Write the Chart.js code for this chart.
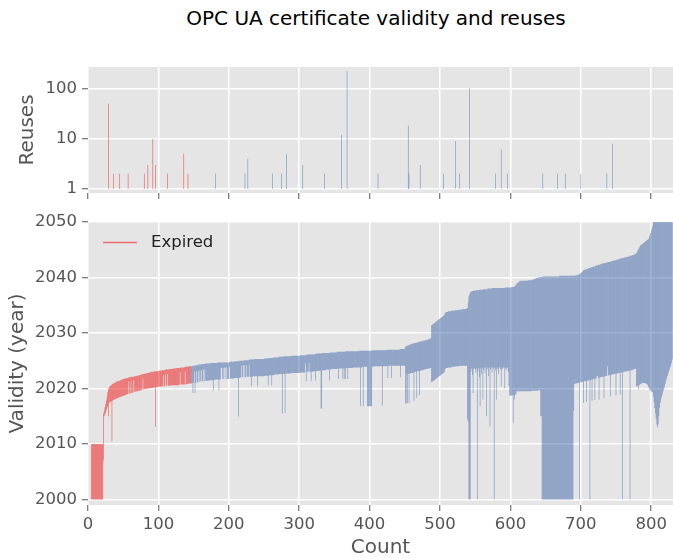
<!DOCTYPE html>
<html>
<head>
<meta charset="utf-8">
<script src="https://cdn.jsdelivr.net/npm/chart.js@4.4.1/dist/chart.umd.min.js"></script>
<style>
  html, body { margin: 0; padding: 0; background: #fff; }
  #wrap { position: relative; width: 673px; height: 558px; overflow: hidden; }
  #title { position: absolute; left: 0; top: 6px; width: 752px; text-align: center;
           font: 20px "DejaVu Sans", sans-serif; color: #000; line-height: 24px; }
  canvas { position: absolute; left: 0; }
</style>
</head>
<body>
<div id="wrap">
  <div id="title">OPC UA certificate validity and reuses</div>
  <canvas id="reuseCanvas" width="673" height="200" style="top:0"></canvas>
  <canvas id="validityCanvas" width="673" height="358" style="top:200px"></canvas>
</div>
<script>
// certificates sorted by expiry; index = count on the x axis
// counts below expiredCount are expired
const expiredCount = 147;

const validityEnd = [
  null,null,null,null,null,2010,2010,2010,2010,2010,
  2010,2010,2010,2010,2010,2010,2010,2010,2010,2010,
  2010,2010,2015.5,2016.0,2016.6,2017.2,2017.8,2018.5,2019.3,2020.0,
  2020.2,2020.4,2020.5,2020.6,2020.7,2020.8,2020.9,2021.0,2021.0,2021.1,
  2021.2,2021.2,2021.3,2021.3,2021.4,2021.4,2021.5,2021.5,2021.6,2021.6,
  2021.7,2021.7,2021.8,2021.8,2021.8,2021.9,2021.9,2021.9,2022.0,2022.0,
  2022.0,2022.0,2022.1,2022.1,2022.1,2022.1,2022.2,2022.2,2022.2,2022.3,
  2022.3,2022.3,2022.4,2022.4,2022.4,2022.5,2022.5,2022.5,2022.6,2022.6,
  2022.6,2022.7,2022.7,2022.7,2022.8,2022.8,2022.8,2022.9,2022.9,2022.9,
  2023.0,2023.0,2023.0,2023.0,2023.0,2023.1,2023.1,2023.1,2023.1,2023.1,
  2023.2,2023.2,2023.2,2023.2,2023.2,2023.3,2023.3,2023.3,2023.3,2023.3,
  2023.4,2023.4,2023.4,2023.4,2023.4,2023.4,2023.5,2023.5,2023.5,2023.5,
  2023.5,2023.6,2023.6,2023.6,2023.6,2023.6,2023.7,2023.7,2023.7,2023.7,
  2023.7,2023.7,2023.8,2023.8,2023.8,2023.8,2023.8,2023.8,2023.9,2023.9,
  2023.9,2023.9,2023.9,2024.0,2024.0,2024.0,2024.0,2024.0,2024.0,2024.1,
  2024.1,2024.1,2024.1,2024.2,2024.2,2024.2,2024.2,2024.3,2024.3,2024.3,
  2024.3,2024.3,2024.4,2024.4,2024.4,2024.4,2024.4,2024.5,2024.5,2024.5,
  2024.5,2024.5,2024.5,2024.5,2024.6,2024.6,2024.6,2024.6,2024.6,2024.6,
  2024.6,2024.6,2024.6,2024.6,2024.7,2024.7,2024.7,2024.7,2024.7,2024.7,
  2024.7,2024.7,2024.7,2024.7,2024.7,2024.7,2024.7,2024.7,2024.7,2024.7,
  2024.7,2024.8,2024.8,2024.8,2024.8,2024.8,2024.8,2024.8,2024.9,2024.9,
  2024.9,2024.9,2024.9,2024.9,2024.9,2025.0,2025.0,2025.0,2025.0,2025.0,
  2025.0,2025.0,2025.1,2025.1,2025.1,2025.1,2025.1,2025.1,2025.1,2025.2,
  2025.2,2025.2,2025.2,2025.2,2025.2,2025.2,2025.2,2025.3,2025.3,2025.3,
  2025.3,2025.3,2025.3,2025.3,2025.3,2025.3,2025.3,2025.3,2025.3,2025.3,
  2025.3,2025.4,2025.4,2025.4,2025.4,2025.4,2025.4,2025.5,2025.5,2025.5,
  2025.5,2025.5,2025.5,2025.5,2025.6,2025.6,2025.6,2025.6,2025.6,2025.6,
  2025.6,2025.7,2025.7,2025.7,2025.7,2025.7,2025.7,2025.7,2025.8,2025.8,
  2025.8,2025.8,2025.8,2025.8,2025.8,2025.8,2025.8,2025.8,2025.8,2025.9,
  2025.9,2025.9,2025.9,2025.9,2025.9,2025.9,2025.9,2025.9,2025.9,2025.9,
  2025.9,2025.9,2026.0,2026.0,2026.0,2026.0,2026.0,2026.0,2026.0,2026.0,
  2026.0,2026.1,2026.1,2026.1,2026.1,2026.1,2026.1,2026.1,2026.1,2026.1,
  2026.1,2026.1,2026.1,2026.2,2026.3,2026.3,2026.3,2026.3,2026.3,2026.3,
  2026.3,2026.3,2026.3,2026.4,2026.4,2026.4,2026.4,2026.4,2026.4,2026.4,
  2026.4,2026.4,2026.4,2026.4,2026.5,2026.5,2026.5,2026.5,2026.5,2026.5,
  2026.5,2026.5,2026.5,2026.5,2026.6,2026.6,2026.6,2026.6,2026.6,2026.6,
  2026.6,2026.6,2026.6,2026.6,2026.6,2026.6,2026.7,2026.7,2026.7,2026.7,
  2026.7,2026.7,2026.7,2026.7,2026.7,2026.7,2026.7,2026.7,2026.7,2026.7,
  2026.7,2026.7,2026.7,2026.7,2026.7,2026.8,2026.8,2026.8,2026.8,2026.8,
  2026.8,2026.8,2026.8,2026.8,2026.8,2026.8,2026.8,2026.8,2026.8,2026.8,
  2026.8,2026.8,2026.8,2026.8,2026.8,2026.9,2026.9,2026.9,2026.9,2026.9,
  2026.9,2026.9,2026.9,2026.9,2026.9,2026.9,2026.9,2026.9,2026.9,2026.9,
  2026.9,2026.9,2026.9,2026.9,2026.9,2027.0,2027.0,2027.0,2027.0,2027.0,
  2027.0,2027.0,2027.0,2027.0,2027.0,2027.0,2027.0,2027.0,2027.0,2027.0,
  2027.0,2027.0,2027.0,2027.1,2027.1,2027.1,2027.1,2027.1,2027.1,2027.1,
  2027.2,2027.5,2027.6,2027.7,2027.7,2027.8,2027.8,2027.9,2027.9,2028.0,
  2028.0,2028.1,2028.1,2028.1,2028.2,2028.2,2028.2,2028.3,2028.3,2028.3,
  2028.4,2028.4,2028.4,2028.5,2028.5,2028.5,2028.6,2028.6,2028.6,2028.7,
  2028.7,2028.7,2028.8,2028.8,2028.9,2028.9,2029.0,2029.0,2031.4,2031.5,
  2031.6,2031.7,2031.8,2031.9,2032.0,2032.1,2032.2,2032.3,2032.4,2032.5,
  2032.6,2032.7,2032.8,2032.9,2033.0,2033.1,2033.2,2033.5,2033.7,2033.8,
  2033.8,2033.8,2033.9,2033.9,2033.9,2033.9,2034.0,2034.0,2034.0,2034.0,
  2034.0,2034.1,2034.1,2034.1,2034.1,2034.1,2034.2,2034.2,2034.2,2034.2,
  2034.2,2034.2,2034.3,2034.3,2034.3,2034.3,2034.3,2034.3,2034.4,2034.5,
  2035.5,2036.6,2037.0,2037.3,2037.4,2037.5,2037.5,2037.6,2037.6,2037.6,
  2037.6,2037.7,2037.7,2037.7,2037.7,2037.7,2037.8,2037.8,2037.8,2037.8,
  2037.8,2037.8,2037.9,2037.9,2037.9,2037.9,2037.9,2037.9,2038.0,2038.0,
  2038.0,2038.0,2038.0,2038.0,2038.0,2038.1,2038.1,2038.1,2038.1,2038.1,
  2038.1,2038.1,2038.1,2038.1,2038.1,2038.1,2038.1,2038.1,2038.1,2038.1,
  2038.1,2038.1,2038.1,2038.2,2038.2,2038.2,2038.2,2038.2,2038.2,2038.2,
  2038.2,2038.2,2038.3,2038.3,2038.3,2038.3,2038.4,2038.5,2038.7,2038.9,
  2039.0,2039.1,2039.2,2039.3,2039.4,2039.4,2039.4,2039.4,2039.4,2039.4,
  2039.4,2039.4,2039.4,2039.4,2039.4,2039.5,2039.5,2039.5,2039.5,2039.5,
  2039.5,2039.6,2039.6,2039.7,2039.7,2039.8,2039.8,2039.9,2039.9,2040.0,
  2040.0,2040.0,2040.1,2040.1,2040.1,2040.1,2040.2,2040.2,2040.2,2040.2,
  2040.2,2040.2,2040.2,2040.2,2040.2,2040.2,2040.2,2040.2,2040.2,2040.2,
  2040.2,2040.2,2040.2,2040.2,2040.2,2040.2,2040.2,2040.2,2040.2,2040.2,
  2040.3,2040.3,2040.3,2040.3,2040.3,2040.3,2040.3,2040.3,2040.3,2040.3,
  2040.3,2040.3,2040.3,2040.3,2040.3,2040.3,2040.3,2040.3,2040.3,2040.3,
  2040.3,2040.3,2040.3,2040.4,2040.4,2040.4,2040.5,2040.5,2040.6,2040.7,
  2040.8,2040.9,2041.0,2041.2,2041.3,2041.4,2041.4,2041.5,2041.5,2041.5,
  2041.6,2041.6,2041.7,2041.7,2041.8,2041.8,2041.9,2041.9,2042.0,2042.0,
  2042.0,2042.1,2042.1,2042.2,2042.2,2042.3,2042.3,2042.3,2042.4,2042.4,
  2042.5,2042.5,2042.5,2042.6,2042.6,2042.6,2042.7,2042.7,2042.7,2042.8,
  2042.8,2042.8,2042.9,2042.9,2042.9,2043.0,2043.0,2043.0,2043.1,2043.1,
  2043.1,2043.2,2043.2,2043.3,2043.3,2043.3,2043.4,2043.4,2043.4,2043.5,
  2043.5,2043.5,2043.6,2043.6,2043.7,2043.7,2043.7,2043.8,2043.8,2043.8,
  2043.9,2043.9,2043.9,2044.0,2044.0,2044.1,2044.1,2044.2,2044.3,2044.4,
  2044.6,2044.9,2045.1,2045.4,2045.6,2045.8,2045.9,2046.0,2046.1,2046.2,
  2046.3,2046.4,2046.5,2046.6,2046.7,2046.8,2046.9,2047.2,2047.6,2048.0,
  2048.4,2048.8,2049.3,2050.5,2055,2055,2055,2055,2055,2055,
  2055,2055,2055,2055,2055,2055,2055,2055,2055,2055,
  2055,2055,2055,2055,2055,2055,2055,2055,2055,2055,
  2055
];

const validityStart = [
  null,null,null,null,null,2000,2000,2000,2000,2000,
  2000,2000,2000,2000,2000,2000,2000,2000,2000,2000,
  2000,2000,2007.0,2015.0,2015.3,2015.6,2016.0,2016.4,2016.8,2015.0,
  2017.3,2017.5,2017.6,2017.7,2010.5,2017.8,2017.9,2018.0,2018.0,2018.1,
  2018.2,2018.2,2018.3,2018.3,2018.4,2018.4,2018.5,2018.5,2018.6,2018.6,
  2018.7,2018.7,2018.8,2018.8,2018.9,2018.9,2019.0,2019.0,2021.2,2019.1,
  2019.1,2021.3,2019.2,2019.2,2019.3,2021.5,2019.4,2019.4,2019.5,2019.5,
  2019.5,2019.6,2019.6,2019.6,2019.7,2019.7,2019.7,2019.8,2021.8,2019.8,
  2019.9,2019.9,2019.9,2019.9,2020.0,2020.0,2020.0,2020.0,2020.1,2020.1,
  2020.1,2020.1,2020.1,2020.2,2020.2,2020.2,2013.1,2020.2,2020.3,2020.3,
  2020.3,2020.3,2020.3,2020.3,2020.4,2020.4,2020.4,2022.4,2020.4,2020.4,
  2022.5,2020.5,2020.5,2022.6,2020.5,2020.5,2020.5,2020.5,2020.6,2020.6,
  2020.6,2020.6,2020.6,2020.6,2020.6,2020.6,2020.6,2020.6,2020.6,2020.6,
  2020.7,2022.9,2020.7,2020.7,2020.7,2020.7,2020.7,2020.7,2023.0,2020.7,
  2020.8,2020.8,2020.8,2020.9,2020.9,2020.9,2020.9,2020.9,2021.0,2019.2,
  2021.0,2023.0,2019.2,2021.0,2023.1,2021.1,2021.1,2023.2,2021.2,2023.2,
  2021.3,2023.3,2021.3,2021.3,2023.4,2021.3,2023.4,2021.4,2021.4,2021.4,
  2021.4,2021.4,2021.5,2021.5,2021.5,2021.5,2021.5,2021.5,2019.6,2021.5,
  2021.6,2021.6,2021.6,2021.6,2021.6,2021.6,2019.7,2021.6,2021.6,2023.7,
  2023.7,2021.7,2023.7,2021.7,2023.8,2023.8,2021.7,2023.8,2021.7,2021.7,
  2021.7,2023.9,2021.8,2021.8,2021.8,2021.8,2021.8,2021.8,2021.9,2021.9,
  2021.9,2021.9,2021.9,2021.9,2014.9,2021.9,2022.0,2022.0,2024.1,2022.0,
  2022.0,2024.2,2024.2,2022.0,2022.0,2024.2,2022.1,2022.1,2022.1,2024.3,
  2022.1,2022.1,2020.4,2022.1,2022.1,2022.2,2022.2,2022.2,2022.2,2022.2,
  2022.2,2020.5,2022.2,2022.2,2022.2,2022.2,2022.2,2022.2,2022.2,2022.2,
  2022.2,2022.3,2022.3,2022.3,2022.3,2022.3,2020.6,2022.3,2022.4,2022.4,
  2022.4,2020.6,2022.4,2022.4,2022.4,2022.5,2022.5,2022.5,2022.5,2022.5,
  2022.5,2022.5,2022.6,2022.6,2022.6,2022.6,2015.5,2022.6,2022.6,2022.6,
  2015.6,2022.7,2022.7,2022.7,2022.7,2022.7,2022.7,2022.7,2022.7,2022.8,
  2022.8,2022.8,2022.8,2022.8,2022.8,2022.8,2022.8,2022.8,2022.8,2022.8,
  2022.8,2022.8,2022.9,2022.9,2022.9,2022.9,2022.9,2022.9,2022.9,2024.5,
  2021.3,2023.0,2023.0,2023.0,2024.6,2023.0,2023.0,2021.3,2023.0,2023.0,
  2023.1,2023.1,2023.1,2021.4,2023.1,2023.1,2023.2,2023.2,2023.2,2023.2,
  2023.2,2016.4,2016.4,2023.3,2023.3,2023.3,2023.3,2023.3,2023.3,2023.4,
  2023.4,2023.4,2023.4,2021.5,2023.4,2023.4,2023.5,2023.5,2023.5,2023.5,
  2023.5,2023.5,2023.5,2023.5,2023.5,2023.6,2021.7,2023.6,2023.6,2023.6,
  2023.6,2023.6,2021.7,2023.6,2021.7,2023.6,2021.7,2023.7,2023.7,2021.7,
  2023.7,2023.7,2023.7,2023.7,2023.7,2023.7,2023.7,2023.8,2023.8,2023.8,
  2023.8,2023.8,2023.8,2023.8,2023.8,2023.8,2023.8,2016.8,2023.8,2023.8,
  2023.9,2016.8,2023.9,2023.9,2023.9,2023.9,2023.9,2016.8,2016.8,2016.8,
  2016.8,2016.8,2016.8,2016.8,2023.9,2023.9,2024.0,2024.0,2024.0,2024.0,
  2024.0,2024.0,2024.0,2024.0,2024.0,2024.0,2024.0,2024.0,2016.9,2024.0,
  2024.0,2024.0,2024.0,2024.0,2024.0,2024.0,2021.9,2024.1,2024.1,2024.1,
  2024.1,2021.9,2024.1,2024.1,2024.1,2024.1,2024.1,2024.1,2024.1,2024.1,
  2024.1,2024.1,2024.1,2024.1,2022.0,2024.1,2024.1,2024.1,2024.1,2024.1,
  2024.1,2017.3,2017.3,2022.5,2017.4,2022.6,2017.4,2022.7,2022.7,2022.8,
  2022.8,2022.8,2022.9,2017.8,2022.9,2023.0,2023.0,2018.3,2023.1,2023.1,
  2023.1,2018.8,2023.2,2023.2,2023.3,2023.3,2023.3,2023.4,2023.4,2023.4,
  2023.5,2023.5,2023.5,2023.6,2023.6,2023.6,2023.7,2023.7,2021.1,2021.2,
  2021.3,2021.4,2021.5,2021.6,2021.7,2021.8,2021.9,2022.0,2022.1,2022.2,
  2022.3,2022.4,2022.5,2022.6,2022.7,2022.8,2022.9,2023.3,2023.6,2023.7,
  2023.7,2023.7,2023.8,2023.8,2023.8,2023.8,2023.8,2023.9,2023.9,2023.9,
  2023.9,2023.9,2024.0,2024.0,2024.0,2024.0,2024.0,2024.0,2024.1,2024.1,
  2024.1,2024.1,2024.1,2024.1,2024.1,2024.1,2024.1,2024.1,2024.1,2014.4,
  2014.0,2000,2000,2000,2023.0,2023.6,2022.4,2019.2,2023.5,2023.7,
  2023.4,2022.8,2023.6,2000,2023.1,2023.7,2022.0,2016.8,2023.6,2022.5,
  2023.7,2018.0,2023.3,2023.8,2022.7,2023.8,2015.0,2023.5,2023.8,2022.2,
  2023.8,2013.2,2023.4,2023.8,2022.9,2023.8,2023.6,2000,2023.8,2023.3,
  2018.0,2023.8,2023.5,2022.6,2023.8,2023.8,2023.4,2020.4,2023.8,2023.5,
  2023.8,2023.8,2020.0,2023.6,2023.8,2023.3,2023.8,2023.0,2020.5,2018.7,
  2018.7,2018.7,2018.8,2018.8,2013.8,2018.8,2018.0,2018.9,2018.9,2019.5,
  2019.5,2019.5,2019.5,2019.5,2019.5,2019.5,2019.5,2019.5,2019.5,2019.5,
  2019.5,2019.5,2019.5,2019.5,2019.5,2019.5,2019.5,2019.5,2019.5,2019.5,
  2019.6,2019.6,2019.6,2019.6,2019.6,2019.6,2019.6,2019.6,2019.6,2019.6,
  2019.7,2019.7,2019.7,2015.0,2015.0,2000,2000,2000,2000,2000,
  2000,2000,2000,2000,2000,2000,2000,2000,2000,2000,
  2000,2000,2000,2000,2000,2000,2000,2000,2000,2000,
  2000,2000,2000,2000,2000,2000,2000,2000,2000,2000,
  2000,2000,2000,2000,2000,2000,2000,2000,2000,2000,
  2016.0,2020.8,2020.9,2020.9,2020.9,2021.0,2021.0,2021.0,2000,2021.1,
  2021.1,2021.1,2021.2,2021.2,2017.4,2021.3,2021.3,2021.3,2017.6,2021.4,
  2021.4,2021.5,2021.5,2000,2021.5,2021.6,2017.8,2021.6,2021.7,2021.7,
  2017.9,2021.8,2021.8,2022.2,2022.2,2021.9,2018.0,2022.0,2022.0,2022.0,
  2022.1,2022.1,2022.1,2018.3,2022.2,2022.2,2022.3,2022.3,2024.0,2022.4,
  2022.4,2022.4,2018.6,2022.5,2022.5,2022.5,2022.6,2022.6,2022.6,2022.7,
  2018.8,2022.7,2022.7,2022.8,2022.8,2022.8,2018.9,2022.9,2022.9,2000,
  2022.9,2023.0,2023.0,2023.0,2023.1,2023.1,2023.1,2023.2,2023.2,2023.2,
  2000,2023.3,2023.3,2023.3,2023.4,2023.4,2023.5,2023.5,2023.6,2020.4,
  2020.4,2020.5,2019.8,2020.6,2020.7,2020.8,2020.9,2021.0,2021.0,2021.0,
  2021.0,2021.0,2020.9,2020.9,2020.8,2020.6,2020.3,2020.0,2019.8,2019.6,
  2019.5,2019.4,2019.3,2018.5,2017.5,2016.5,2015.5,2014.5,2013.5,2013.0,
  2013.5,2015.0,2016.5,2017.4,2018.0,2018.5,2019.0,2019.5,2019.8,2020.3,
  2020.8,2021.3,2021.8,2022.2,2022.6,2023.0,2023.4,2023.8,2024.2,2024.6,
  2025.2
];

// certificates whose key was reused: count position and number of reuses
const reuseCount = [29, 36, 45, 57, 80, 85, 92, 96, 113, 136, 142, 181, 223, 227, 262, 275, 282,
  305, 336, 360, 368, 412, 455, 456, 472, 505, 522, 528, 542, 579, 587, 596, 646, 667, 678, 700, 737, 745];
const reuseValue = [50, 2, 2, 2, 2, 3, 10, 3, 2, 5, 2, 2, 2, 4, 2, 2, 5,
  3, 2, 12, 220, 2, 18, 2, 3, 2, 9, 2, 100, 2, 6, 2, 2, 2, 2, 2, 2, 8];

const countTicks = [0, 100, 200, 300, 400, 500, 600, 700, 800];
const yearTicks = [2000, 2010, 2020, 2030, 2040, 2050];
const reuseTicks = [1, 10, 100];

// sub-pixel bars overlap at their edges, so alpha is a bit above 0.5
const RED = 'rgba(240, 15, 15, 0.56)';
const BLUE = 'rgba(60, 100, 170, 0.56)';
const FONT = '"DejaVu Sans", sans-serif';
const TICK_COLOR = '#555555';

Chart.defaults.font.family = FONT;
Chart.defaults.animation = false;

const plotBackground = {
  id: 'plotBackground',
  beforeDraw(chart) {
    const { ctx, chartArea: a } = chart;
    ctx.save();
    ctx.fillStyle = '#e5e5e5';
    ctx.fillRect(a.left, a.top, a.right - a.left, a.bottom - a.top);
    ctx.restore();
  },
};

// matplotlib-like legend sitting inside the plot, top left
const expiredLegend = {
  id: 'expiredLegend',
  afterDraw(chart) {
    const { ctx, chartArea: a } = chart;
    const y = a.top + 20.5;
    ctx.save();
    ctx.strokeStyle = RED;
    ctx.lineWidth = 1.3;
    ctx.beginPath();
    ctx.moveTo(a.left + 15, y);
    ctx.lineTo(a.left + 49, y);
    ctx.stroke();
    ctx.fillStyle = '#222';
    ctx.font = '16.5px ' + FONT;
    ctx.textBaseline = 'middle';
    ctx.fillText('Expired', a.left + 63, y);
    ctx.restore();
  },
};

function fixTicks(values) {
  return (scale) => { scale.ticks = values.map(v => ({ value: v })); };
}

function gridOpts() {
  return { color: '#ffffff', lineWidth: 1.5, tickColor: TICK_COLOR, tickLength: 6, tickWidth: 1, offset: false };
}

function countAxis(showLabels, height) {
  return {
    type: 'linear',
    min: 0,
    max: 831,
    offset: false,
    afterBuildTicks: fixTicks(countTicks),
    grid: gridOpts(),
    border: { display: false },
    ticks: {
      display: showLabels,
      color: TICK_COLOR,
      font: { size: 16.5 },
      padding: 4,
      maxRotation: 0,
      callback: v => String(v),
    },
    title: {
      display: showLabels,
      text: 'Count',
      color: TICK_COLOR,
      font: { size: 20, lineHeight: 1 },
      padding: { top: 0, bottom: 0 },
    },
    afterFit: (s) => { s.height = height; s.paddingLeft = 0; s.paddingRight = 0; },
  };
}

const barStyle = {
  borderWidth: 0,
  barPercentage: 1,
  categoryPercentage: 1,
  inflateAmount: 0,
  grouped: false,
  clip: 0,
};

// ---- top panel: reuses (log scale) ----
const reuseBars = reuseCount.map((c, i) => ({ x: c, y: [1, reuseValue[i]] }));

new Chart(document.getElementById('reuseCanvas'), {
  type: 'bar',
  data: {
    datasets: [{
      label: 'Reuses',
      data: reuseBars,
      backgroundColor: reuseCount.map(c => (c < expiredCount ? RED : BLUE)),
      ...barStyle,
    }],
  },
  options: {
    responsive: false,
    layout: { padding: { top: 67, left: 0, right: 0, bottom: 0 } },
    plugins: { legend: { display: false }, tooltip: { enabled: false } },
    scales: {
      x: countAxis(false, 7),
      y: {
        type: 'logarithmic',
        min: 0.833,
        max: 265,
        afterBuildTicks: fixTicks(reuseTicks),
        grid: gridOpts(),
        border: { display: false },
        ticks: { color: TICK_COLOR, font: { size: 16.5 }, padding: 5, callback: v => String(v) },
        title: {
          display: true,
          text: 'Reuses',
          color: TICK_COLOR,
          font: { size: 20 },
          padding: { top: 16, bottom: 0 },
        },
        afterFit: (s) => { s.width = 88; s.paddingTop = 0; s.paddingBottom = 0; },
      },
    },
  },
  plugins: [plotBackground],
});

// ---- bottom panel: validity ranges ----
const expiredBars = [];
const validBars = [];
validityEnd.forEach((end, i) => {
  if (end === null) return;
  const bar = { x: i, y: [validityStart[i], end] };
  if (i < expiredCount) expiredBars.push(bar);
  else validBars.push(bar);
});

new Chart(document.getElementById('validityCanvas'), {
  type: 'bar',
  data: {
    datasets: [
      { label: 'Expired', data: expiredBars, backgroundColor: RED, ...barStyle },
      { label: 'Valid', data: validBars, backgroundColor: BLUE, ...barStyle },
    ],
  },
  options: {
    responsive: false,
    layout: { padding: { top: 22, left: 0, right: 0, bottom: 0 } },
    plugins: { legend: { display: false }, tooltip: { enabled: false } },
    scales: {
      x: countAxis(true, 53),
      y: {
        min: 1999,
        max: 2050,
        afterBuildTicks: fixTicks(yearTicks),
        grid: gridOpts(),
        border: { display: false },
        ticks: { color: TICK_COLOR, font: { size: 16.5 }, padding: 5, callback: v => String(v) },
        title: {
          display: true,
          text: 'Validity (year)',
          color: TICK_COLOR,
          font: { size: 20 },
          padding: { top: 6, bottom: 0 },
        },
        afterFit: (s) => { s.width = 88; s.paddingTop = 0; s.paddingBottom = 0; },
      },
    },
  },
  plugins: [plotBackground, expiredLegend],
});
</script>
</body>
</html>
